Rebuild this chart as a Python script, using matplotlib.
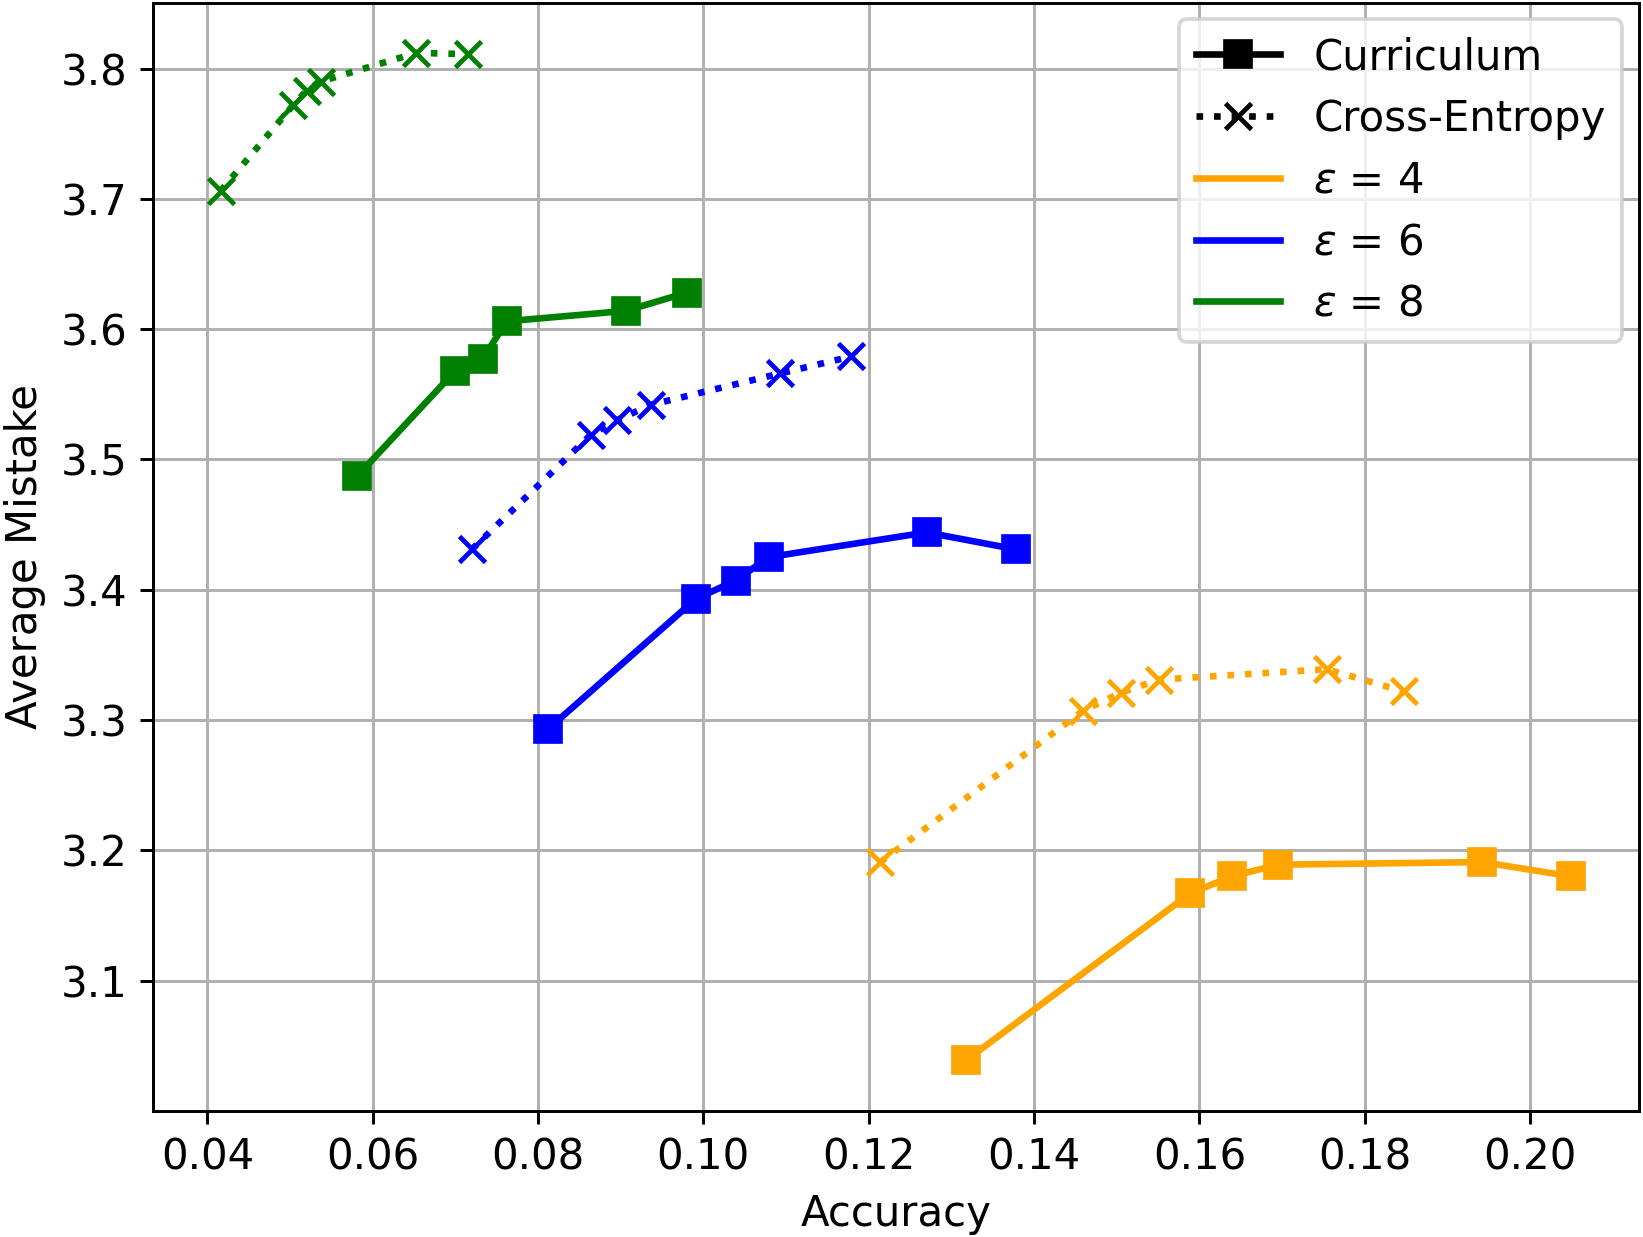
import matplotlib
matplotlib.use("Agg")
import matplotlib.pyplot as plt
from matplotlib.lines import Line2D

# accuracy / average mistake per privacy budget
eps_values = [4, 6, 8]
eps_colors = ["orange", "blue", "green"]

acc_cur_4 = [0.1318, 0.1589, 0.1639, 0.1695, 0.1942, 0.2050]
mis_cur_4 = [3.039, 3.167, 3.180, 3.189, 3.191, 3.180]
acc_ce_4 = [0.1214, 0.1459, 0.1505, 0.1551, 0.1754, 0.1847]
mis_ce_4 = [3.191, 3.307, 3.321, 3.331, 3.339, 3.322]

acc_cur_6 = [0.0812, 0.0991, 0.1039, 0.1079, 0.1270, 0.1378]
mis_cur_6 = [3.293, 3.393, 3.407, 3.425, 3.444, 3.431]
acc_ce_6 = [0.0720, 0.0864, 0.0895, 0.0937, 0.1093, 0.1179]
mis_ce_6 = [3.431, 3.519, 3.530, 3.542, 3.566, 3.579]

acc_cur_8 = [0.0581, 0.0700, 0.0733, 0.0762, 0.0906, 0.0980]
mis_cur_8 = [3.487, 3.568, 3.577, 3.606, 3.614, 3.628]
acc_ce_8 = [0.0416, 0.0504, 0.0520, 0.0537, 0.0653, 0.0715]
mis_ce_8 = [3.706, 3.772, 3.783, 3.790, 3.812, 3.811]

curriculum = [(acc_cur_4, mis_cur_4), (acc_cur_6, mis_cur_6), (acc_cur_8, mis_cur_8)]
cross_entropy = [(acc_ce_4, mis_ce_4), (acc_ce_6, mis_ce_6), (acc_ce_8, mis_ce_8)]

DPI = 265
LW = 1.8
MS = 7


def main():
    plt.rcParams["font.size"] = 11.4
    fig = plt.figure(figsize=(1643 / DPI, 1237 / DPI), dpi=DPI)
    ax = fig.add_axes([153 / 1643, 1 - 1110.5 / 1237, 1486 / 1643, 1108 / 1237])

    for color, (xc, yc), (xe, ye) in zip(eps_colors, curriculum, cross_entropy):
        ax.plot(xc, yc, color=color, linestyle="-", marker="s",
                linewidth=LW, markersize=MS)
        ax.plot(xe, ye, color=color, linestyle=":", marker="x",
                linewidth=LW, markersize=MS, markeredgewidth=1.3)

    ax.set_xlabel("Accuracy")
    ax.set_ylabel("Average Mistake")
    ax.grid(True, color="#b0b0b0", linewidth=0.8)
    ax.set_axisbelow(True)

    handles = [
        Line2D([], [], color="black", linestyle="-", marker="s",
               linewidth=LW, markersize=MS),
        Line2D([], [], color="black", linestyle=":", marker="x",
               linewidth=LW, markersize=MS, markeredgewidth=1.3),
    ]
    labels = ["Curriculum", "Cross-Entropy"]
    for eps, color in zip(eps_values, eps_colors):
        handles.append(Line2D([], [], color=color, linewidth=LW))
        labels.append(rf"$\varepsilon$ = {eps}")
    ax.legend(handles, labels, loc="upper right", labelspacing=0.47,
              borderaxespad=0.4)

    fig.savefig("out.png", dpi=DPI)
    plt.close(fig)


if __name__ == "__main__":
    main()
